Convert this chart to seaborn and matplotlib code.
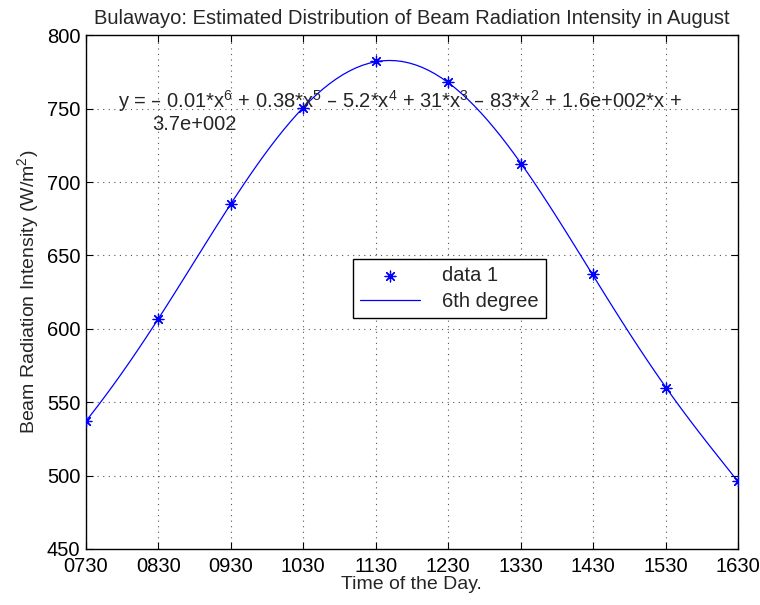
import numpy as np
import pandas as pd
import seaborn as sns
import matplotlib.pyplot as plt

# Observed points (time of day -> beam radiation intensity)
hora = [1, 2, 3, 4, 5, 6, 7, 8, 9, 10]
rotulos_hora = ['0730', '0830', '0930', '1030', '1130', '1230', '1330', '1430', '1530', '1630']
intensidade = [537, 607, 685, 750.5, 782.5, 768, 712, 637.5, 560, 496]
yticks = [450, 500, 550, 600, 650, 700, 750, 800]

dados = pd.DataFrame({'hora': hora, 'intensidade': intensidade})

sns.set_style("ticks")
plt.rcParams['font.family'] = ['Liberation Sans', 'DejaVu Sans']
plt.rcParams['mathtext.default'] = 'regular'

fig = plt.figure(figsize=(7.6, 6.05), dpi=100)
ax = fig.add_axes([0.113, 0.0926, 0.858, 0.849])

# polinomio de 6o grau ajustado pelo seaborn
sns.regplot(data=dados, x='hora', y='intensidade', order=6, ci=None, scatter=False,
            truncate=True, ax=ax, label='6th degree',
            line_kws={'color': '#0000ff', 'linewidth': 0.9})
sns.scatterplot(data=dados, x='hora', y='intensidade', ax=ax, marker=(8, 2, 0),
                s=60, color='#0000ff', edgecolor='#0000ff', linewidth=0.9,
                label='data 1', zorder=3)

ax.set_xlim(1, 10)
ax.set_ylim(450, 800)
ax.set_xticks(hora)
ax.set_xticklabels(rotulos_hora)
ax.set_yticks(yticks)
ax.tick_params(direction='in', length=5, width=0.8, labelsize=14.5, colors='black',
               top=True, right=True)
ax.tick_params(axis='x', pad=6)
ax.tick_params(axis='y', pad=4)
for s in ax.spines.values():
    s.set_linewidth(1.0)
    s.set_color('black')
ax.grid(True, linestyle=(0, (1, 4)), color='#555555', linewidth=0.8)

ax.set_title('Bulawayo: Estimated Distribution of Beam Radiation Intensity in August',
             fontsize=14.5, pad=8)
ax.set_xlabel('Time of the Day.', fontsize=14, labelpad=0)
ax.set_ylabel('Beam Radiation Intensity (W/m$^2$)', fontsize=14, labelpad=4)

ax.text(0.049, 0.858, 'y = – 0.01*x$^6$ + 0.38*x$^5$ – 5.2*x$^4$ + 31*x$^3$ – 83*x$^2$ + 1.6e+002*x +',
        transform=ax.transAxes, fontsize=14.5, va='baseline')
ax.text(0.101, 0.815, '3.7e+002', transform=ax.transAxes, fontsize=14.5, va='baseline')

# legenda na ordem: pontos, depois curva
h, l = ax.get_legend_handles_labels()
ordem = [l.index('data 1'), l.index('6th degree')]
leg = ax.legend([h[i] for i in ordem], [l[i] for i in ordem], loc='center',
                bbox_to_anchor=(0.5575, 0.507), fontsize=14.5, frameon=True,
                fancybox=False, edgecolor='black', framealpha=1,
                handlelength=3.0, handletextpad=1.1, borderpad=0.35,
                labelspacing=0.35)
leg.get_frame().set_linewidth(1.0)

fig.savefig('out.png', dpi=100)
